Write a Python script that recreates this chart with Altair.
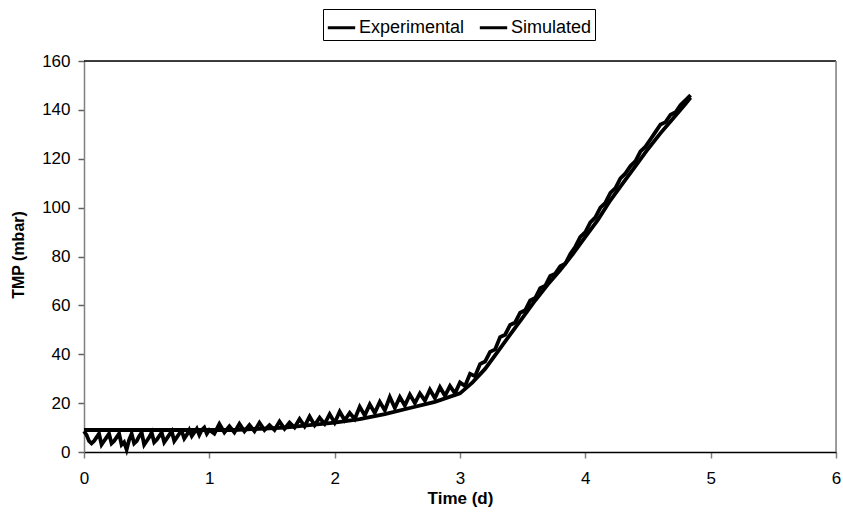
import altair as alt
import pandas as pd

# Experimental series: dense part (0 .. 0.98 d, every 0.02 d)
exp_a_start = 0.0
exp_a_step = 0.02
exp_a_vals = [8.5, 7.0, 4.5, 3.5, 4.5, 6.0, 7.5, 3.0, 4.5, 6.0,
              7.5, 3.5, 4.5, 6.0, 7.5, 3.0, 4.0, 1.0, 5.0, 7.5,
              3.5, 4.5, 6.5, 8.0, 3.0, 4.5, 6.0, 8.0, 4.0, 5.0,
              6.5, 8.0, 4.0, 5.5, 7.0, 8.5, 4.5, 6.0, 7.5, 8.5,
              5.5, 7.0, 9.0, 6.5, 8.0, 9.5, 7.0, 9.0, 10.0, 7.5]

# Experimental series: 1.00 .. 4.84 d, every 0.04 d
exp_b_start = 1.0
exp_b_step = 0.04
exp_b_vals = [9, 7.5, 11.5, 8, 10.5, 8, 11.5, 8.5, 11, 8.5,
              12, 9, 11, 9, 12.5, 9.5, 12, 10, 13.5, 10.5,
              14.5, 11, 14, 11.5, 15.5, 12, 16.5, 13, 16, 13.5,
              18.5, 15, 19.5, 16, 20.5, 17, 22.5, 18, 22.5, 19,
              23.5, 20, 24, 21, 25.5, 22, 26.5, 23, 27, 24,
              28.5, 27, 32, 31, 36, 37, 41, 42, 47, 48,
              52, 53, 57, 58, 62, 63, 67, 68, 72, 73,
              76, 77, 81, 84, 88, 90, 94, 96, 100, 102,
              106, 108, 112, 114, 117, 119, 123, 125, 128, 131,
              134, 135, 138, 139, 142, 144, 146]

# Simulated series
sim_t = [0, 0.2, 0.4, 0.6, 0.8, 1.0, 1.2, 1.4, 1.6, 1.8, 2.0, 2.2, 2.4, 2.6,
         2.8, 3.0, 3.1, 3.2, 3.3, 3.4, 3.5, 3.6, 3.7, 3.8, 3.9, 4.0, 4.1,
         4.2, 4.3, 4.4, 4.5, 4.6, 4.7, 4.8, 4.84]
sim_v = [9, 9, 9, 9, 9, 9, 9, 9.5, 10, 11, 12, 13.5, 15.5, 18,
         20.5, 24, 28.5, 34, 41, 48, 55, 62, 68.5, 74.5, 81, 88, 95,
         103, 110, 117, 124, 130.5, 136.5, 142.5, 145]

series_names = ["Experimental", "Simulated"]
x_ticks = [0, 1, 2, 3, 4, 5, 6]
y_ticks = [0, 20, 40, 60, 80, 100, 120, 140, 160]

rows = []
order = 0
for i, v in enumerate(exp_a_vals):
    rows.append({"t": round(exp_a_start + i * exp_a_step, 4), "v": v,
                 "series": series_names[0], "o": order}); order += 1
for i, v in enumerate(exp_b_vals):
    rows.append({"t": round(exp_b_start + i * exp_b_step, 4), "v": v,
                 "series": series_names[0], "o": order}); order += 1
for t, v in zip(sim_t, sim_v):
    rows.append({"t": t, "v": v, "series": series_names[1], "o": order}); order += 1
df = pd.DataFrame(rows)

W, H = 752, 391
FONT = "Liberation Sans"

x_enc = alt.X("t:Q",
              scale=alt.Scale(domain=[0, 6], nice=False, zero=False),
              axis=alt.Axis(values=x_ticks, title="Time (d)", grid=False,
                            domainColor="black", domainWidth=1.5,
                            tickColor="#808080", tickSize=6, tickWidth=1.5,
                            labelPadding=12, labelFontSize=17, labelFont=FONT,
                            labelColor="black", labelFlush=False,
                            titleFont=FONT, titleFontSize=17,
                            titleFontWeight="bold", titleColor="black",
                            titleY=46, titleBaseline="middle"))
y_enc = alt.Y("v:Q",
              scale=alt.Scale(domain=[0, 160], nice=False),
              axis=alt.Axis(values=y_ticks, title="TMP (mbar)", grid=False,
                            domainColor="#808080", domainWidth=1.5,
                            tickColor="#606060", tickSize=6, tickWidth=1.5,
                            labelPadding=8, labelFontSize=17, labelFont=FONT,
                            labelColor="black", labelFlush=False,
                            titleFont=FONT, titleFontSize=16,
                            titleFontWeight="bold", titleColor="black",
                            titleX=-66, titleY=H / 2 - 2, titleAngle=-90,
                            titleAlign="center", titleBaseline="middle"))

lines = alt.Chart(df).mark_line(strokeWidth=3.8, strokeJoin="miter").encode(
    x=x_enc,
    y=y_enc,
    order="o:Q",
    color=alt.Color("series:N",
                    scale=alt.Scale(domain=series_names, range=["black", "black"]),
                    legend=alt.Legend(orient="none", legendX=239, legendY=-52,
                                      direction="horizontal", title=None,
                                      symbolType="stroke", symbolStrokeWidth=3,
                                      symbolSize=750, labelFontSize=18,
                                      labelFont=FONT, labelColor="black",
                                      labelOffset=2, columnPadding=8,
                                      strokeColor="black", padding=3,
                                      fillColor="white")),
)

top_rule = alt.Chart(pd.DataFrame({"a": [0]})).mark_rule(
    color="black", strokeWidth=1.5).encode(
    x=alt.value(0), x2=alt.value(W), y=alt.value(0))
right_rule = alt.Chart(pd.DataFrame({"a": [0]})).mark_rule(
    color="#808080", strokeWidth=1.5).encode(
    x=alt.value(W), y=alt.value(0), y2=alt.value(H))

chart = alt.layer(lines, top_rule, right_rule).properties(
    width=W, height=H,
    autosize=alt.AutoSizeParams(type="none"),
    padding={"left": 84, "top": 61, "right": 7, "bottom": 71},
).configure_view(stroke=None).configure(background="white")

chart.save("out.html", embed_options={"renderer": "svg", "actions": False})
